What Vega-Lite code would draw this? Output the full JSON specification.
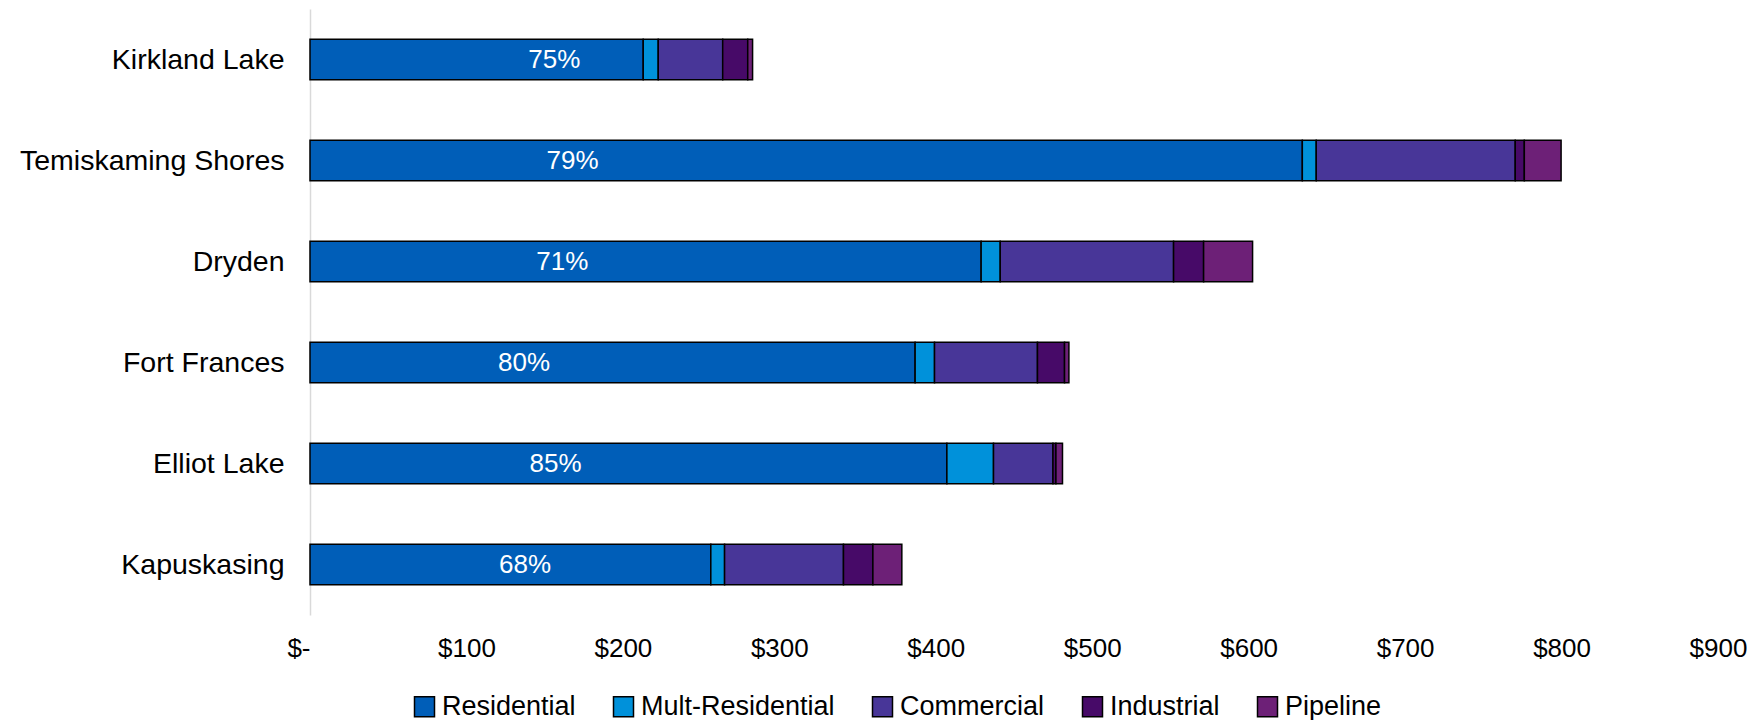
{
  "$schema": "https://vega.github.io/schema/vega-lite/v6.json",
  "width": 1408,
  "height": 606,
  "padding": {"left": 19, "top": 9, "right": 0, "bottom": 0},
  "background": "white",
  "config": {
    "font": "Liberation Sans",
    "view": {"stroke": null}
  },
  "datasets": {
    "bars": [
      {"town": "Kirkland Lake", "type": "Residential", "k": 1, "value": 213.0},
      {"town": "Kirkland Lake", "type": "Mult-Residential", "k": 2, "value": 9.6},
      {"town": "Kirkland Lake", "type": "Commercial", "k": 3, "value": 41.2},
      {"town": "Kirkland Lake", "type": "Industrial", "k": 4, "value": 16.0},
      {"town": "Kirkland Lake", "type": "Pipeline", "k": 5, "value": 3.1},
      {"town": "Temiskaming Shores", "type": "Residential", "k": 1, "value": 634.3},
      {"town": "Temiskaming Shores", "type": "Mult-Residential", "k": 2, "value": 8.9},
      {"town": "Temiskaming Shores", "type": "Commercial", "k": 3, "value": 127.2},
      {"town": "Temiskaming Shores", "type": "Industrial", "k": 4, "value": 5.8},
      {"town": "Temiskaming Shores", "type": "Pipeline", "k": 5, "value": 23.5},
      {"town": "Dryden", "type": "Residential", "k": 1, "value": 429.0},
      {"town": "Dryden", "type": "Mult-Residential", "k": 2, "value": 12.2},
      {"town": "Dryden", "type": "Commercial", "k": 3, "value": 110.8},
      {"town": "Dryden", "type": "Industrial", "k": 4, "value": 19.2},
      {"town": "Dryden", "type": "Pipeline", "k": 5, "value": 31.3},
      {"town": "Fort Frances", "type": "Residential", "k": 1, "value": 386.8},
      {"town": "Fort Frances", "type": "Mult-Residential", "k": 2, "value": 12.4},
      {"town": "Fort Frances", "type": "Commercial", "k": 3, "value": 65.8},
      {"town": "Fort Frances", "type": "Industrial", "k": 4, "value": 17.3},
      {"town": "Fort Frances", "type": "Pipeline", "k": 5, "value": 2.8},
      {"town": "Elliot Lake", "type": "Residential", "k": 1, "value": 407.1},
      {"town": "Elliot Lake", "type": "Mult-Residential", "k": 2, "value": 29.8},
      {"town": "Elliot Lake", "type": "Commercial", "k": 3, "value": 38.0},
      {"town": "Elliot Lake", "type": "Industrial", "k": 4, "value": 1.9},
      {"town": "Elliot Lake", "type": "Pipeline", "k": 5, "value": 4.2},
      {"town": "Kapuskasing", "type": "Residential", "k": 1, "value": 256.2},
      {"town": "Kapuskasing", "type": "Mult-Residential", "k": 2, "value": 8.8},
      {"town": "Kapuskasing", "type": "Commercial", "k": 3, "value": 76.0},
      {"town": "Kapuskasing", "type": "Industrial", "k": 4, "value": 18.8},
      {"town": "Kapuskasing", "type": "Pipeline", "k": 5, "value": 18.5}
    ],
    "labels": [
      {"town": "Kirkland Lake", "pct": "75%", "at": 156.2},
      {"town": "Temiskaming Shores", "pct": "79%", "at": 167.8},
      {"town": "Dryden", "pct": "71%", "at": 161.3},
      {"town": "Fort Frances", "pct": "80%", "at": 136.8},
      {"town": "Elliot Lake", "pct": "85%", "at": 157.0},
      {"town": "Kapuskasing", "pct": "68%", "at": 137.5}
    ]
  },
  "encoding": {
    "y": {
      "field": "town",
      "type": "nominal",
      "sort": ["Kirkland Lake", "Temiskaming Shores", "Dryden", "Fort Frances", "Elliot Lake", "Kapuskasing"],
      "scale": {"paddingInner": 0.6, "paddingOuter": 0.3},
      "axis": {
        "title": null,
        "ticks": false,
        "domain": true,
        "domainColor": "#d9d9d9",
        "domainWidth": 1.5,
        "labelFontSize": 28.5,
        "labelColor": "#000000",
        "labelPadding": 26,
        "labelLimit": 400,
        "minExtent": 291,
        "maxExtent": 291
      }
    }
  },
  "layer": [
    {
      "data": {"name": "bars"},
      "mark": {"type": "bar", "stroke": "#000000", "strokeWidth": 1.5},
      "encoding": {
        "x": {
          "field": "value",
          "type": "quantitative",
          "stack": "zero",
          "scale": {"domain": [0, 900], "nice": false},
          "axis": {
            "title": null,
            "values": [0, 100, 200, 300, 400, 500, 600, 700, 800, 900],
            "labelExpr": "datum.value == 0 ? '$-' : '$' + datum.value",
            "labelAlign": {"condition": {"test": "datum.value == 0", "value": "right"}, "value": "center"},
            "grid": false,
            "ticks": false,
            "domain": false,
            "labelFontSize": 26,
            "labelColor": "#000000",
            "labelPadding": 20,
            "labelFlush": false,
            "labelOverlap": false
          }
        },
        "color": {
          "field": "type",
          "type": "nominal",
          "scale": {
            "domain": ["Residential", "Mult-Residential", "Commercial", "Industrial", "Pipeline"],
            "range": ["#005EB8", "#0091DA", "#483698", "#470A68", "#6D2077"]
          },
          "legend": {
            "title": null,
            "orient": "none",
            "legendX": 101,
            "legendY": 684,
            "direction": "horizontal",
            "columns": 5,
            "columnPadding": 34,
            "padding": 0,
            "symbolType": "square",
            "symbolSize": 400,
            "symbolStrokeColor": "#000000",
            "symbolStrokeWidth": 1.5,
            "labelFontSize": 27,
            "labelColor": "#000000",
            "labelOffset": 4,
            "labelLimit": 400
          }
        },
        "order": {"field": "k", "type": "quantitative"}
      }
    },
    {
      "data": {"name": "labels"},
      "mark": {"type": "text", "color": "#ffffff", "fontSize": 26, "align": "center", "baseline": "middle"},
      "encoding": {
        "x": {"field": "at", "type": "quantitative"},
        "text": {"field": "pct", "type": "nominal"}
      }
    }
  ]
}
